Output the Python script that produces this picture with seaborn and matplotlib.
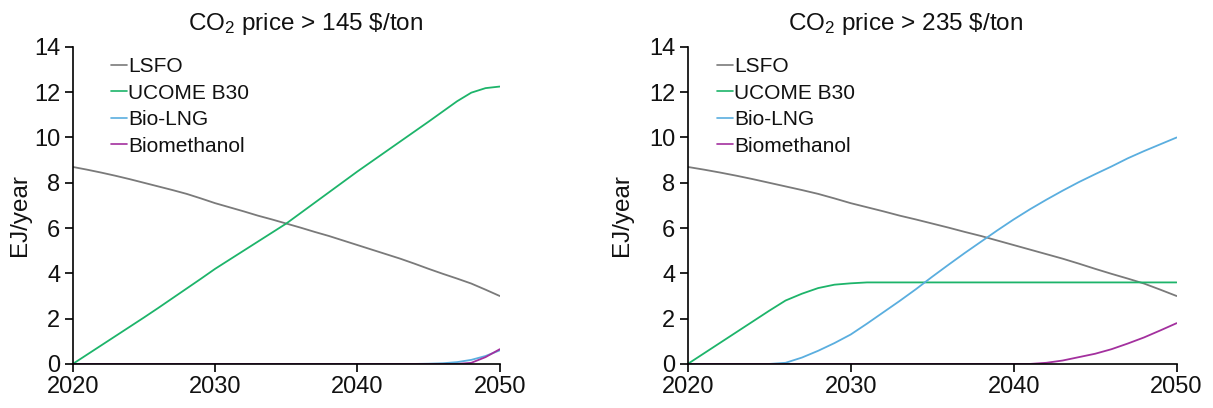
import numpy as np
import pandas as pd
import matplotlib
matplotlib.use("Agg")
import matplotlib.pyplot as plt
import seaborn as sns

years = list(range(2020, 2051))

# Scenario 1: CO2 price > 145 $/ton
lsfo_145 = [8.70, 8.58, 8.45, 8.31, 8.16, 8.00, 7.84, 7.68, 7.51, 7.31, 7.10,
            6.92, 6.74, 6.55, 6.38, 6.20, 6.02, 5.83, 5.65, 5.45, 5.25,
            5.05, 4.85, 4.65, 4.43, 4.20, 3.98, 3.77, 3.55, 3.28, 3.00]
ucome_145 = [0.00, 0.41, 0.82, 1.23, 1.64, 2.05, 2.47, 2.90, 3.33, 3.76, 4.20,
             4.60, 5.00, 5.40, 5.80, 6.20, 6.66, 7.12, 7.58, 8.04, 8.50,
             8.94, 9.38, 9.82, 10.26, 10.70, 11.15, 11.60, 11.98, 12.18, 12.25]
biolng_145 = [0.0] * 25 + [0.01, 0.03, 0.08, 0.18, 0.35, 0.60]
biometh_145 = [0.0] * 28 + [0.05, 0.30, 0.65]

# Scenario 2: CO2 price > 235 $/ton
lsfo_235 = lsfo_145
ucome_235 = [0.00, 0.47, 0.94, 1.41, 1.88, 2.35, 2.80, 3.10, 3.35, 3.50, 3.56,
             3.60] + [3.60] * 19
biolng_235 = [0.0] * 6 + [0.05, 0.28, 0.58, 0.92, 1.30, 1.78, 2.28, 2.78, 3.30,
                          3.85, 4.38, 4.90, 5.40, 5.90, 6.38, 6.83, 7.25, 7.65,
                          8.03, 8.38, 8.72, 9.08, 9.40, 9.70, 10.00]
biometh_235 = [0.0] * 22 + [0.05, 0.15, 0.30, 0.45, 0.65, 0.90, 1.17, 1.48, 1.80]

fuels = ["LSFO", "UCOME B30", "Bio-LNG", "Biomethanol"]
colors = ["#7a7a7a", "#1db46a", "#5aaedf", "#a3309e"]
titles = ["CO$_2$ price > 145 \\$/ton", "CO$_2$ price > 235 \\$/ton"]
scenarios = [
    [lsfo_145, ucome_145, biolng_145, biometh_145],
    [lsfo_235, ucome_235, biolng_235, biometh_235],
]

sns.set_theme(style="ticks")
plt.rcParams["font.family"] = ["Liberation Sans", "DejaVu Sans"]
plt.rcParams["mathtext.fontset"] = "custom"
plt.rcParams["mathtext.rm"] = "Liberation Sans"
plt.rcParams["mathtext.it"] = "Liberation Sans"

fig = plt.figure(figsize=(12.13, 4.08), dpi=100)
panels = [
    # axes box, title x, legend x, y-label x
    ([0.060, 0.108, 0.352, 0.777], 0.546, 0.090, -0.098),
    ([0.567, 0.108, 0.403, 0.777], 0.446, 0.060, -0.112),
]

for (box, tx, lx, yx), title, series in zip(panels, titles, scenarios):
    ax = fig.add_axes(box)
    frames = []
    for name, vals in zip(fuels, series):
        frames.append(pd.DataFrame({"Year": years, "EJ": vals, "Fuel": name}))
    df = pd.concat(frames, ignore_index=True)
    sns.lineplot(data=df, x="Year", y="EJ", hue="Fuel", hue_order=fuels,
                 palette=colors, linewidth=1.3, ax=ax)
    ax.set_xlim(2020, 2050)
    ax.set_ylim(0, 14)
    ax.set_xticks([2020, 2030, 2040, 2050])
    ax.set_yticks(range(0, 15, 2))
    ax.tick_params(axis="both", labelsize=17, length=6, width=1.2,
                   color="black", direction="out", pad=3,
                   labelcolor="#111111")
    for s in ["top", "right"]:
        ax.spines[s].set_visible(False)
    for s in ["left", "bottom"]:
        ax.spines[s].set_color("black")
        ax.spines[s].set_linewidth(1.2)
    ax.set_xlabel("")
    ax.set_ylabel("EJ/year", fontsize=17.5, color="#111111")
    ax.yaxis.set_label_coords(yx, 0.47)
    ax.set_title(title, fontsize=17.5, x=tx, pad=12, color="#111111")
    leg = ax.legend(loc="upper left", bbox_to_anchor=(lx, 0.968), frameon=False,
                    fontsize=15, handlelength=0.75, handletextpad=0.05,
                    labelspacing=0.36, borderaxespad=0.0, borderpad=0.0)
    for t in leg.get_texts():
        t.set_color("#111111")
    for line in leg.get_lines():
        line.set_linewidth(1.2)

fig.savefig("out.png", dpi=100)
